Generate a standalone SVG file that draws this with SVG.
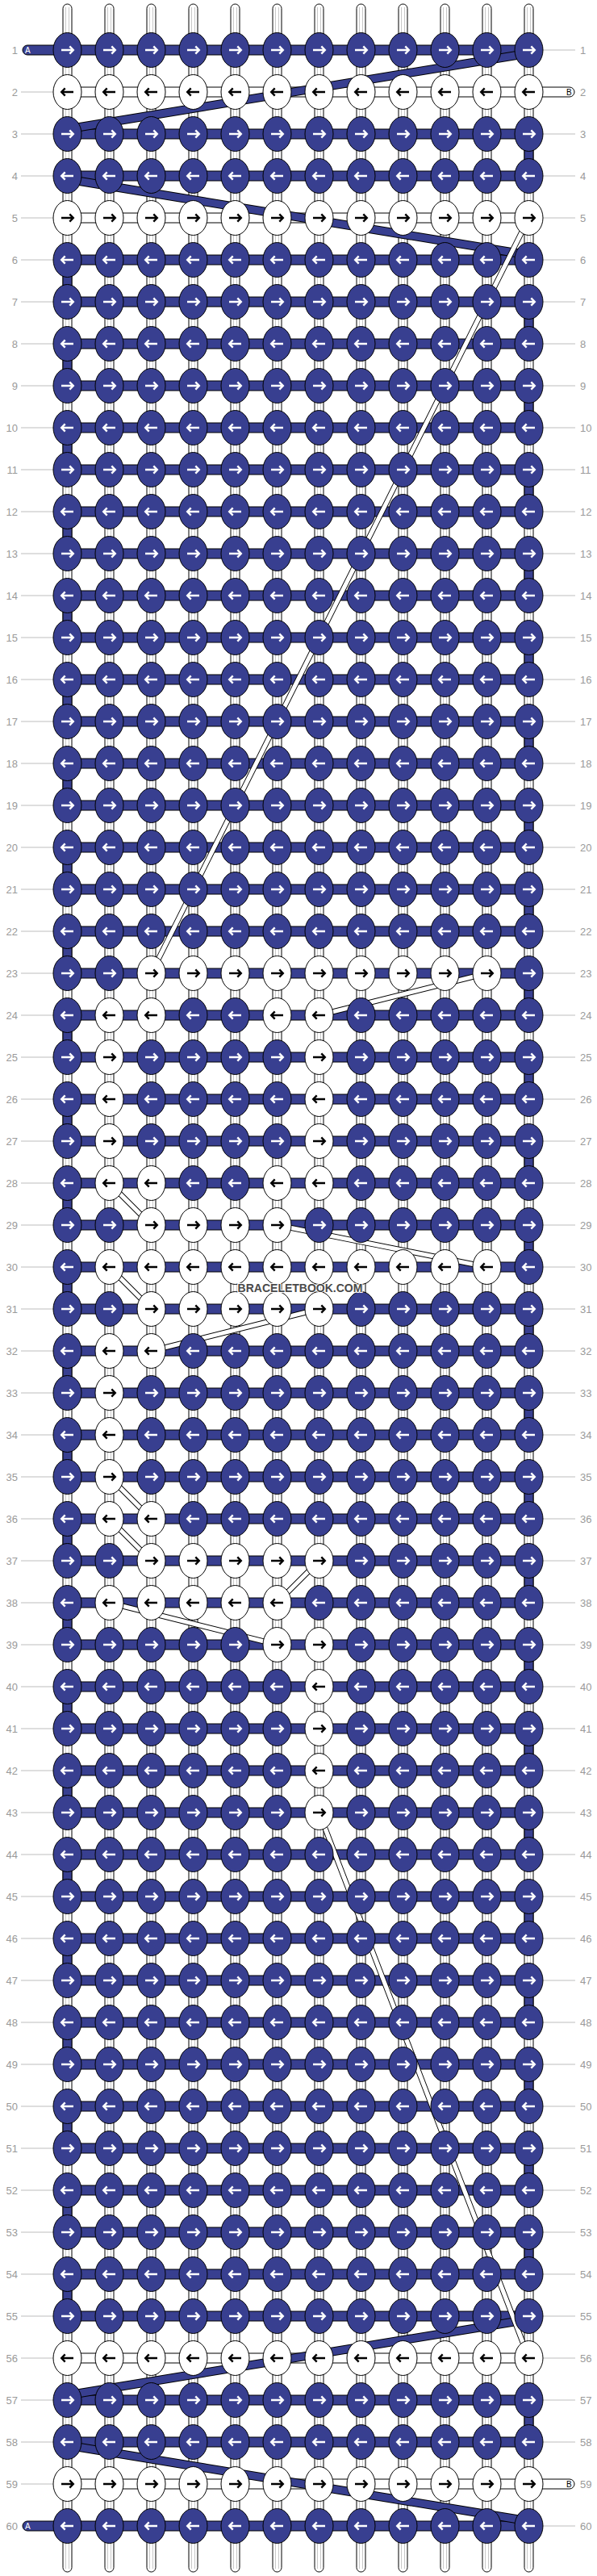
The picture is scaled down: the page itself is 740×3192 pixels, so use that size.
<svg xmlns="http://www.w3.org/2000/svg" xmlns:xlink="http://www.w3.org/1999/xlink" width="740" height="3192" viewBox="0 0 740 3192">
<defs>
<style>
.l{font-family:"Liberation Sans",Arial,sans-serif;font-size:13px;fill:#9a9a9a;text-anchor:end}
.r{font-family:"Liberation Sans",Arial,sans-serif;font-size:13px;fill:#9a9a9a}
.g{stroke:#bdbdbd;stroke-width:1;fill:none}
.hb{fill:#383f90;stroke:#000;stroke-width:1}
.hw{fill:#fff;stroke:#000;stroke-width:1}
.bk{stroke:#000;fill:none;stroke-linecap:butt}
.bl{stroke:#383f90;fill:none;stroke-linecap:butt}
.wh{stroke:#fff;fill:none;stroke-linecap:butt}
</style>
<g id="vt"><rect x="-5.5" y="5" width="11" height="3182" rx="5.5" fill="#fff" stroke="#000"/><path d="M-2,9V3183M2,9V3183" stroke="#c8c8c8" fill="none"/></g>
<rect id="hB" class="hb" x="83.5" y="-6" width="572" height="12"/>
<rect id="hW" class="hw" x="83.5" y="-6" width="572" height="12"/>
<g id="bR"><ellipse rx="17.5" ry="21.5" fill="#383f90" stroke="#000"/><path d="M-7.5,0H7M2.8,-4.7L7.3,0L2.8,4.7" stroke="#fff" stroke-width="2.4" fill="none"/></g>
<g id="bL"><ellipse rx="17.5" ry="21.5" fill="#383f90" stroke="#000"/><path d="M7.5,0H-7M-2.8,-4.7L-7.3,0L-2.8,4.7" stroke="#fff" stroke-width="2.4" fill="none"/></g>
<g id="wR"><ellipse rx="17.5" ry="21.5" fill="#fff" stroke="#000"/><path d="M-7.5,0H7M2.8,-4.7L7.3,0L2.8,4.7" stroke="#000" stroke-width="2.4" fill="none"/></g>
<g id="wL"><ellipse rx="17.5" ry="21.5" fill="#fff" stroke="#000"/><path d="M7.5,0H-7M-2.8,-4.7L-7.3,0L-2.8,4.7" stroke="#000" stroke-width="2.4" fill="none"/></g>
</defs>
<rect width="740" height="3192" fill="#fff"/>
<g id="connectors">
<g id="warps"><use href="#vt" x="83.5"/><use href="#vt" x="135.5"/><use href="#vt" x="187.5"/><use href="#vt" x="239.5"/><use href="#vt" x="291.5"/><use href="#vt" x="343.5"/><use href="#vt" x="395.5"/><use href="#vt" x="447.5"/><use href="#vt" x="499.5"/><use href="#vt" x="551.5"/><use href="#vt" x="603.5"/><use href="#vt" x="655.5"/></g>
<g id="ends">
<rect x="28" y="56" width="62" height="12" rx="6" class="hb"/><text x="31" y="65.5" font-family="Liberation Sans,Arial,sans-serif" font-size="10" fill="#fff">A</text>
<rect x="28" y="3124" width="62" height="12" rx="6" class="hb"/><text x="31" y="3133.5" font-family="Liberation Sans,Arial,sans-serif" font-size="10" fill="#fff">A</text>
<rect x="650" y="108" width="62" height="12" rx="6" class="hw"/><text x="702" y="117.5" font-family="Liberation Sans,Arial,sans-serif" font-size="10" fill="#000">B</text>
<rect x="650" y="3072" width="62" height="12" rx="6" class="hw"/><text x="702" y="3081.5" font-family="Liberation Sans,Arial,sans-serif" font-size="10" fill="#000">B</text>
</g>
<g id="bars">
<use href="#hB" y="62"/><use href="#hW" y="114"/><use href="#hB" y="166"/><use href="#hB" y="218"/><use href="#hW" y="270"/><use href="#hB" y="322"/><use href="#hB" y="374"/><use href="#hB" y="426"/><use href="#hB" y="478"/><use href="#hB" y="530"/><use href="#hB" y="582"/><use href="#hB" y="634"/><use href="#hB" y="686"/><use href="#hB" y="738"/><use href="#hB" y="790"/><use href="#hB" y="842"/><use href="#hB" y="894"/><use href="#hB" y="946"/><use href="#hB" y="998"/><use href="#hB" y="1050"/><use href="#hB" y="1102"/><use href="#hB" y="1154"/><use href="#hB" y="1206"/><use href="#hB" y="1258"/><use href="#hB" y="1310"/><use href="#hB" y="1362"/><use href="#hB" y="1414"/><use href="#hB" y="1466"/><use href="#hB" y="1518"/><use href="#hB" y="1570"/><use href="#hB" y="1622"/><use href="#hB" y="1674"/><use href="#hB" y="1726"/><use href="#hB" y="1778"/><use href="#hB" y="1830"/><use href="#hB" y="1882"/><use href="#hB" y="1934"/><use href="#hB" y="1986"/><use href="#hB" y="2038"/><use href="#hB" y="2090"/><use href="#hB" y="2142"/><use href="#hB" y="2194"/><use href="#hB" y="2246"/><use href="#hB" y="2298"/><use href="#hB" y="2350"/><use href="#hB" y="2402"/><use href="#hB" y="2454"/><use href="#hB" y="2506"/><use href="#hB" y="2558"/><use href="#hB" y="2610"/><use href="#hB" y="2662"/><use href="#hB" y="2714"/><use href="#hB" y="2766"/><use href="#hB" y="2818"/><use href="#hB" y="2870"/><use href="#hW" y="2922"/><use href="#hB" y="2974"/><use href="#hB" y="3026"/><use href="#hW" y="3078"/><use href="#hB" y="3130"/>
</g>
<g id="turns">
<path class="bk" stroke-width="12" stroke-dasharray="52 52" d="M83.5,322V2870"/><path class="bl" stroke-width="10" stroke-dasharray="52 52" d="M83.5,322V2870"/>
<path class="bk" stroke-width="12" stroke-dasharray="52 52" d="M655.5,374V2818"/><path class="bl" stroke-width="10" stroke-dasharray="52 52" d="M655.5,374V2818"/>
<rect x="650" y="166" width="11" height="52" class="hb"/><rect x="650" y="2974" width="11" height="52" class="hb"/>
</g>
<g id="carry-blue">
<path class="bk" stroke-width="11" d="M655.5,66L83.5,160M83.5,222L655.5,316M655.5,2874L83.5,2968M83.5,3030L655.5,3124"/>
<path class="bl" stroke-width="9" d="M655.5,66L83.5,160M83.5,222L655.5,316M655.5,2874L83.5,2968M83.5,3030L655.5,3124"/>
</g>
<g id="carry-white">
<path class="bk" stroke-width="7" d="M655.5,270L187.5,1206M603.5,1206L395.5,1258M135.5,1466L187.5,1518M343.5,1518L603.5,1570M135.5,1570L187.5,1622M395.5,1622L187.5,1674M135.5,1830L187.5,1882M135.5,1882L187.5,1934M395.5,1934L343.5,1986M135.5,1986L343.5,2038M395.5,2246L655.5,2922"/>
<path class="wh" stroke-width="5.2" d="M655.5,270L187.5,1206M603.5,1206L395.5,1258M135.5,1466L187.5,1518M343.5,1518L603.5,1570M135.5,1570L187.5,1622M395.5,1622L187.5,1674M135.5,1830L187.5,1882M135.5,1882L187.5,1934M395.5,1934L343.5,1986M135.5,1986L343.5,2038M395.5,2246L655.5,2922"/>
</g>
</g>
<g id="knots">
<g id="row1" transform="translate(0,62)"><text class="l" x="22" y="4.5">1</text><text class="r" x="719" y="4.5">1</text><path class="g" d="M673,0H713"/><g id="k1-1"><use href="#bR" x="83.5"/></g><g id="k1-2"><use href="#bR" x="135.5"/></g><g id="k1-3"><use href="#bR" x="187.5"/></g><g id="k1-4"><use href="#bR" x="239.5"/></g><g id="k1-5"><use href="#bR" x="291.5"/></g><g id="k1-6"><use href="#bR" x="343.5"/></g><g id="k1-7"><use href="#bR" x="395.5"/></g><g id="k1-8"><use href="#bR" x="447.5"/></g><g id="k1-9"><use href="#bR" x="499.5"/></g><g id="k1-10"><use href="#bR" x="551.5"/></g><g id="k1-11"><use href="#bR" x="603.5"/></g><g id="k1-12"><use href="#bR" x="655.5"/></g></g>
<g id="row2" transform="translate(0,114)"><text class="l" x="22" y="4.5">2</text><text class="r" x="719" y="4.5">2</text><path class="g" d="M26,0H66"/><g id="k2-1"><use href="#wL" x="83.5"/></g><g id="k2-2"><use href="#wL" x="135.5"/></g><g id="k2-3"><use href="#wL" x="187.5"/></g><g id="k2-4"><use href="#wL" x="239.5"/></g><g id="k2-5"><use href="#wL" x="291.5"/></g><g id="k2-6"><use href="#wL" x="343.5"/></g><g id="k2-7"><use href="#wL" x="395.5"/></g><g id="k2-8"><use href="#wL" x="447.5"/></g><g id="k2-9"><use href="#wL" x="499.5"/></g><g id="k2-10"><use href="#wL" x="551.5"/></g><g id="k2-11"><use href="#wL" x="603.5"/></g><g id="k2-12"><use href="#wL" x="655.5"/></g></g>
<g id="row3" transform="translate(0,166)"><text class="l" x="22" y="4.5">3</text><text class="r" x="719" y="4.5">3</text><path class="g" d="M26,0H66M673,0H713"/><g id="k3-1"><use href="#bR" x="83.5"/></g><g id="k3-2"><use href="#bR" x="135.5"/></g><g id="k3-3"><use href="#bR" x="187.5"/></g><g id="k3-4"><use href="#bR" x="239.5"/></g><g id="k3-5"><use href="#bR" x="291.5"/></g><g id="k3-6"><use href="#bR" x="343.5"/></g><g id="k3-7"><use href="#bR" x="395.5"/></g><g id="k3-8"><use href="#bR" x="447.5"/></g><g id="k3-9"><use href="#bR" x="499.5"/></g><g id="k3-10"><use href="#bR" x="551.5"/></g><g id="k3-11"><use href="#bR" x="603.5"/></g><g id="k3-12"><use href="#bR" x="655.5"/></g></g>
<g id="row4" transform="translate(0,218)"><text class="l" x="22" y="4.5">4</text><text class="r" x="719" y="4.5">4</text><path class="g" d="M26,0H66M673,0H713"/><g id="k4-1"><use href="#bL" x="83.5"/></g><g id="k4-2"><use href="#bL" x="135.5"/></g><g id="k4-3"><use href="#bL" x="187.5"/></g><g id="k4-4"><use href="#bL" x="239.5"/></g><g id="k4-5"><use href="#bL" x="291.5"/></g><g id="k4-6"><use href="#bL" x="343.5"/></g><g id="k4-7"><use href="#bL" x="395.5"/></g><g id="k4-8"><use href="#bL" x="447.5"/></g><g id="k4-9"><use href="#bL" x="499.5"/></g><g id="k4-10"><use href="#bL" x="551.5"/></g><g id="k4-11"><use href="#bL" x="603.5"/></g><g id="k4-12"><use href="#bL" x="655.5"/></g></g>
<g id="row5" transform="translate(0,270)"><text class="l" x="22" y="4.5">5</text><text class="r" x="719" y="4.5">5</text><path class="g" d="M26,0H66M673,0H713"/><g id="k5-1"><use href="#wR" x="83.5"/></g><g id="k5-2"><use href="#wR" x="135.5"/></g><g id="k5-3"><use href="#wR" x="187.5"/></g><g id="k5-4"><use href="#wR" x="239.5"/></g><g id="k5-5"><use href="#wR" x="291.5"/></g><g id="k5-6"><use href="#wR" x="343.5"/></g><g id="k5-7"><use href="#wR" x="395.5"/></g><g id="k5-8"><use href="#wR" x="447.5"/></g><g id="k5-9"><use href="#wR" x="499.5"/></g><g id="k5-10"><use href="#wR" x="551.5"/></g><g id="k5-11"><use href="#wR" x="603.5"/></g><g id="k5-12"><use href="#wR" x="655.5"/></g></g>
<g id="row6" transform="translate(0,322)"><text class="l" x="22" y="4.5">6</text><text class="r" x="719" y="4.5">6</text><path class="g" d="M26,0H66M673,0H713"/><g id="k6-1"><use href="#bL" x="83.5"/></g><g id="k6-2"><use href="#bL" x="135.5"/></g><g id="k6-3"><use href="#bL" x="187.5"/></g><g id="k6-4"><use href="#bL" x="239.5"/></g><g id="k6-5"><use href="#bL" x="291.5"/></g><g id="k6-6"><use href="#bL" x="343.5"/></g><g id="k6-7"><use href="#bL" x="395.5"/></g><g id="k6-8"><use href="#bL" x="447.5"/></g><g id="k6-9"><use href="#bL" x="499.5"/></g><g id="k6-10"><use href="#bL" x="551.5"/></g><g id="k6-11"><use href="#bL" x="603.5"/></g><g id="k6-12"><use href="#bL" x="655.5"/></g></g>
<g id="row7" transform="translate(0,374)"><text class="l" x="22" y="4.5">7</text><text class="r" x="719" y="4.5">7</text><path class="g" d="M26,0H66M673,0H713"/><g id="k7-1"><use href="#bR" x="83.5"/></g><g id="k7-2"><use href="#bR" x="135.5"/></g><g id="k7-3"><use href="#bR" x="187.5"/></g><g id="k7-4"><use href="#bR" x="239.5"/></g><g id="k7-5"><use href="#bR" x="291.5"/></g><g id="k7-6"><use href="#bR" x="343.5"/></g><g id="k7-7"><use href="#bR" x="395.5"/></g><g id="k7-8"><use href="#bR" x="447.5"/></g><g id="k7-9"><use href="#bR" x="499.5"/></g><g id="k7-10"><use href="#bR" x="551.5"/></g><g id="k7-11"><use href="#bR" x="603.5"/></g><g id="k7-12"><use href="#bR" x="655.5"/></g></g>
<g id="row8" transform="translate(0,426)"><text class="l" x="22" y="4.5">8</text><text class="r" x="719" y="4.5">8</text><path class="g" d="M26,0H66M673,0H713"/><g id="k8-1"><use href="#bL" x="83.5"/></g><g id="k8-2"><use href="#bL" x="135.5"/></g><g id="k8-3"><use href="#bL" x="187.5"/></g><g id="k8-4"><use href="#bL" x="239.5"/></g><g id="k8-5"><use href="#bL" x="291.5"/></g><g id="k8-6"><use href="#bL" x="343.5"/></g><g id="k8-7"><use href="#bL" x="395.5"/></g><g id="k8-8"><use href="#bL" x="447.5"/></g><g id="k8-9"><use href="#bL" x="499.5"/></g><g id="k8-10"><use href="#bL" x="551.5"/></g><g id="k8-11"><use href="#bL" x="603.5"/></g><g id="k8-12"><use href="#bL" x="655.5"/></g></g>
<g id="row9" transform="translate(0,478)"><text class="l" x="22" y="4.5">9</text><text class="r" x="719" y="4.5">9</text><path class="g" d="M26,0H66M673,0H713"/><g id="k9-1"><use href="#bR" x="83.5"/></g><g id="k9-2"><use href="#bR" x="135.5"/></g><g id="k9-3"><use href="#bR" x="187.5"/></g><g id="k9-4"><use href="#bR" x="239.5"/></g><g id="k9-5"><use href="#bR" x="291.5"/></g><g id="k9-6"><use href="#bR" x="343.5"/></g><g id="k9-7"><use href="#bR" x="395.5"/></g><g id="k9-8"><use href="#bR" x="447.5"/></g><g id="k9-9"><use href="#bR" x="499.5"/></g><g id="k9-10"><use href="#bR" x="551.5"/></g><g id="k9-11"><use href="#bR" x="603.5"/></g><g id="k9-12"><use href="#bR" x="655.5"/></g></g>
<g id="row10" transform="translate(0,530)"><text class="l" x="22" y="4.5">10</text><text class="r" x="719" y="4.5">10</text><path class="g" d="M26,0H66M673,0H713"/><g id="k10-1"><use href="#bL" x="83.5"/></g><g id="k10-2"><use href="#bL" x="135.5"/></g><g id="k10-3"><use href="#bL" x="187.5"/></g><g id="k10-4"><use href="#bL" x="239.5"/></g><g id="k10-5"><use href="#bL" x="291.5"/></g><g id="k10-6"><use href="#bL" x="343.5"/></g><g id="k10-7"><use href="#bL" x="395.5"/></g><g id="k10-8"><use href="#bL" x="447.5"/></g><g id="k10-9"><use href="#bL" x="499.5"/></g><g id="k10-10"><use href="#bL" x="551.5"/></g><g id="k10-11"><use href="#bL" x="603.5"/></g><g id="k10-12"><use href="#bL" x="655.5"/></g></g>
<g id="row11" transform="translate(0,582)"><text class="l" x="22" y="4.5">11</text><text class="r" x="719" y="4.5">11</text><path class="g" d="M26,0H66M673,0H713"/><g id="k11-1"><use href="#bR" x="83.5"/></g><g id="k11-2"><use href="#bR" x="135.5"/></g><g id="k11-3"><use href="#bR" x="187.5"/></g><g id="k11-4"><use href="#bR" x="239.5"/></g><g id="k11-5"><use href="#bR" x="291.5"/></g><g id="k11-6"><use href="#bR" x="343.5"/></g><g id="k11-7"><use href="#bR" x="395.5"/></g><g id="k11-8"><use href="#bR" x="447.5"/></g><g id="k11-9"><use href="#bR" x="499.5"/></g><g id="k11-10"><use href="#bR" x="551.5"/></g><g id="k11-11"><use href="#bR" x="603.5"/></g><g id="k11-12"><use href="#bR" x="655.5"/></g></g>
<g id="row12" transform="translate(0,634)"><text class="l" x="22" y="4.5">12</text><text class="r" x="719" y="4.5">12</text><path class="g" d="M26,0H66M673,0H713"/><g id="k12-1"><use href="#bL" x="83.5"/></g><g id="k12-2"><use href="#bL" x="135.5"/></g><g id="k12-3"><use href="#bL" x="187.5"/></g><g id="k12-4"><use href="#bL" x="239.5"/></g><g id="k12-5"><use href="#bL" x="291.5"/></g><g id="k12-6"><use href="#bL" x="343.5"/></g><g id="k12-7"><use href="#bL" x="395.5"/></g><g id="k12-8"><use href="#bL" x="447.5"/></g><g id="k12-9"><use href="#bL" x="499.5"/></g><g id="k12-10"><use href="#bL" x="551.5"/></g><g id="k12-11"><use href="#bL" x="603.5"/></g><g id="k12-12"><use href="#bL" x="655.5"/></g></g>
<g id="row13" transform="translate(0,686)"><text class="l" x="22" y="4.5">13</text><text class="r" x="719" y="4.5">13</text><path class="g" d="M26,0H66M673,0H713"/><g id="k13-1"><use href="#bR" x="83.5"/></g><g id="k13-2"><use href="#bR" x="135.5"/></g><g id="k13-3"><use href="#bR" x="187.5"/></g><g id="k13-4"><use href="#bR" x="239.5"/></g><g id="k13-5"><use href="#bR" x="291.5"/></g><g id="k13-6"><use href="#bR" x="343.5"/></g><g id="k13-7"><use href="#bR" x="395.5"/></g><g id="k13-8"><use href="#bR" x="447.5"/></g><g id="k13-9"><use href="#bR" x="499.5"/></g><g id="k13-10"><use href="#bR" x="551.5"/></g><g id="k13-11"><use href="#bR" x="603.5"/></g><g id="k13-12"><use href="#bR" x="655.5"/></g></g>
<g id="row14" transform="translate(0,738)"><text class="l" x="22" y="4.5">14</text><text class="r" x="719" y="4.5">14</text><path class="g" d="M26,0H66M673,0H713"/><g id="k14-1"><use href="#bL" x="83.5"/></g><g id="k14-2"><use href="#bL" x="135.5"/></g><g id="k14-3"><use href="#bL" x="187.5"/></g><g id="k14-4"><use href="#bL" x="239.5"/></g><g id="k14-5"><use href="#bL" x="291.5"/></g><g id="k14-6"><use href="#bL" x="343.5"/></g><g id="k14-7"><use href="#bL" x="395.5"/></g><g id="k14-8"><use href="#bL" x="447.5"/></g><g id="k14-9"><use href="#bL" x="499.5"/></g><g id="k14-10"><use href="#bL" x="551.5"/></g><g id="k14-11"><use href="#bL" x="603.5"/></g><g id="k14-12"><use href="#bL" x="655.5"/></g></g>
<g id="row15" transform="translate(0,790)"><text class="l" x="22" y="4.5">15</text><text class="r" x="719" y="4.5">15</text><path class="g" d="M26,0H66M673,0H713"/><g id="k15-1"><use href="#bR" x="83.5"/></g><g id="k15-2"><use href="#bR" x="135.5"/></g><g id="k15-3"><use href="#bR" x="187.5"/></g><g id="k15-4"><use href="#bR" x="239.5"/></g><g id="k15-5"><use href="#bR" x="291.5"/></g><g id="k15-6"><use href="#bR" x="343.5"/></g><g id="k15-7"><use href="#bR" x="395.5"/></g><g id="k15-8"><use href="#bR" x="447.5"/></g><g id="k15-9"><use href="#bR" x="499.5"/></g><g id="k15-10"><use href="#bR" x="551.5"/></g><g id="k15-11"><use href="#bR" x="603.5"/></g><g id="k15-12"><use href="#bR" x="655.5"/></g></g>
<g id="row16" transform="translate(0,842)"><text class="l" x="22" y="4.5">16</text><text class="r" x="719" y="4.5">16</text><path class="g" d="M26,0H66M673,0H713"/><g id="k16-1"><use href="#bL" x="83.5"/></g><g id="k16-2"><use href="#bL" x="135.5"/></g><g id="k16-3"><use href="#bL" x="187.5"/></g><g id="k16-4"><use href="#bL" x="239.5"/></g><g id="k16-5"><use href="#bL" x="291.5"/></g><g id="k16-6"><use href="#bL" x="343.5"/></g><g id="k16-7"><use href="#bL" x="395.5"/></g><g id="k16-8"><use href="#bL" x="447.5"/></g><g id="k16-9"><use href="#bL" x="499.5"/></g><g id="k16-10"><use href="#bL" x="551.5"/></g><g id="k16-11"><use href="#bL" x="603.5"/></g><g id="k16-12"><use href="#bL" x="655.5"/></g></g>
<g id="row17" transform="translate(0,894)"><text class="l" x="22" y="4.5">17</text><text class="r" x="719" y="4.5">17</text><path class="g" d="M26,0H66M673,0H713"/><g id="k17-1"><use href="#bR" x="83.5"/></g><g id="k17-2"><use href="#bR" x="135.5"/></g><g id="k17-3"><use href="#bR" x="187.5"/></g><g id="k17-4"><use href="#bR" x="239.5"/></g><g id="k17-5"><use href="#bR" x="291.5"/></g><g id="k17-6"><use href="#bR" x="343.5"/></g><g id="k17-7"><use href="#bR" x="395.5"/></g><g id="k17-8"><use href="#bR" x="447.5"/></g><g id="k17-9"><use href="#bR" x="499.5"/></g><g id="k17-10"><use href="#bR" x="551.5"/></g><g id="k17-11"><use href="#bR" x="603.5"/></g><g id="k17-12"><use href="#bR" x="655.5"/></g></g>
<g id="row18" transform="translate(0,946)"><text class="l" x="22" y="4.5">18</text><text class="r" x="719" y="4.5">18</text><path class="g" d="M26,0H66M673,0H713"/><g id="k18-1"><use href="#bL" x="83.5"/></g><g id="k18-2"><use href="#bL" x="135.5"/></g><g id="k18-3"><use href="#bL" x="187.5"/></g><g id="k18-4"><use href="#bL" x="239.5"/></g><g id="k18-5"><use href="#bL" x="291.5"/></g><g id="k18-6"><use href="#bL" x="343.5"/></g><g id="k18-7"><use href="#bL" x="395.5"/></g><g id="k18-8"><use href="#bL" x="447.5"/></g><g id="k18-9"><use href="#bL" x="499.5"/></g><g id="k18-10"><use href="#bL" x="551.5"/></g><g id="k18-11"><use href="#bL" x="603.5"/></g><g id="k18-12"><use href="#bL" x="655.5"/></g></g>
<g id="row19" transform="translate(0,998)"><text class="l" x="22" y="4.5">19</text><text class="r" x="719" y="4.5">19</text><path class="g" d="M26,0H66M673,0H713"/><g id="k19-1"><use href="#bR" x="83.5"/></g><g id="k19-2"><use href="#bR" x="135.5"/></g><g id="k19-3"><use href="#bR" x="187.5"/></g><g id="k19-4"><use href="#bR" x="239.5"/></g><g id="k19-5"><use href="#bR" x="291.5"/></g><g id="k19-6"><use href="#bR" x="343.5"/></g><g id="k19-7"><use href="#bR" x="395.5"/></g><g id="k19-8"><use href="#bR" x="447.5"/></g><g id="k19-9"><use href="#bR" x="499.5"/></g><g id="k19-10"><use href="#bR" x="551.5"/></g><g id="k19-11"><use href="#bR" x="603.5"/></g><g id="k19-12"><use href="#bR" x="655.5"/></g></g>
<g id="row20" transform="translate(0,1050)"><text class="l" x="22" y="4.5">20</text><text class="r" x="719" y="4.5">20</text><path class="g" d="M26,0H66M673,0H713"/><g id="k20-1"><use href="#bL" x="83.5"/></g><g id="k20-2"><use href="#bL" x="135.5"/></g><g id="k20-3"><use href="#bL" x="187.5"/></g><g id="k20-4"><use href="#bL" x="239.5"/></g><g id="k20-5"><use href="#bL" x="291.5"/></g><g id="k20-6"><use href="#bL" x="343.5"/></g><g id="k20-7"><use href="#bL" x="395.5"/></g><g id="k20-8"><use href="#bL" x="447.5"/></g><g id="k20-9"><use href="#bL" x="499.5"/></g><g id="k20-10"><use href="#bL" x="551.5"/></g><g id="k20-11"><use href="#bL" x="603.5"/></g><g id="k20-12"><use href="#bL" x="655.5"/></g></g>
<g id="row21" transform="translate(0,1102)"><text class="l" x="22" y="4.5">21</text><text class="r" x="719" y="4.5">21</text><path class="g" d="M26,0H66M673,0H713"/><g id="k21-1"><use href="#bR" x="83.5"/></g><g id="k21-2"><use href="#bR" x="135.5"/></g><g id="k21-3"><use href="#bR" x="187.5"/></g><g id="k21-4"><use href="#bR" x="239.5"/></g><g id="k21-5"><use href="#bR" x="291.5"/></g><g id="k21-6"><use href="#bR" x="343.5"/></g><g id="k21-7"><use href="#bR" x="395.5"/></g><g id="k21-8"><use href="#bR" x="447.5"/></g><g id="k21-9"><use href="#bR" x="499.5"/></g><g id="k21-10"><use href="#bR" x="551.5"/></g><g id="k21-11"><use href="#bR" x="603.5"/></g><g id="k21-12"><use href="#bR" x="655.5"/></g></g>
<g id="row22" transform="translate(0,1154)"><text class="l" x="22" y="4.5">22</text><text class="r" x="719" y="4.5">22</text><path class="g" d="M26,0H66M673,0H713"/><g id="k22-1"><use href="#bL" x="83.5"/></g><g id="k22-2"><use href="#bL" x="135.5"/></g><g id="k22-3"><use href="#bL" x="187.5"/></g><g id="k22-4"><use href="#bL" x="239.5"/></g><g id="k22-5"><use href="#bL" x="291.5"/></g><g id="k22-6"><use href="#bL" x="343.5"/></g><g id="k22-7"><use href="#bL" x="395.5"/></g><g id="k22-8"><use href="#bL" x="447.5"/></g><g id="k22-9"><use href="#bL" x="499.5"/></g><g id="k22-10"><use href="#bL" x="551.5"/></g><g id="k22-11"><use href="#bL" x="603.5"/></g><g id="k22-12"><use href="#bL" x="655.5"/></g></g>
<g id="row23" transform="translate(0,1206)"><text class="l" x="22" y="4.5">23</text><text class="r" x="719" y="4.5">23</text><path class="g" d="M26,0H66M673,0H713"/><g id="k23-1"><use href="#bR" x="83.5"/></g><g id="k23-2"><use href="#bR" x="135.5"/></g><g id="k23-3"><use href="#wR" x="187.5"/></g><g id="k23-4"><use href="#wR" x="239.5"/></g><g id="k23-5"><use href="#wR" x="291.5"/></g><g id="k23-6"><use href="#wR" x="343.5"/></g><g id="k23-7"><use href="#wR" x="395.5"/></g><g id="k23-8"><use href="#wR" x="447.5"/></g><g id="k23-9"><use href="#wR" x="499.5"/></g><g id="k23-10"><use href="#wR" x="551.5"/></g><g id="k23-11"><use href="#wR" x="603.5"/></g><g id="k23-12"><use href="#bR" x="655.5"/></g></g>
<g id="row24" transform="translate(0,1258)"><text class="l" x="22" y="4.5">24</text><text class="r" x="719" y="4.5">24</text><path class="g" d="M26,0H66M673,0H713"/><g id="k24-1"><use href="#bL" x="83.5"/></g><g id="k24-2"><use href="#wL" x="135.5"/></g><g id="k24-3"><use href="#wL" x="187.5"/></g><g id="k24-4"><use href="#bL" x="239.5"/></g><g id="k24-5"><use href="#bL" x="291.5"/></g><g id="k24-6"><use href="#wL" x="343.5"/></g><g id="k24-7"><use href="#wL" x="395.5"/></g><g id="k24-8"><use href="#bL" x="447.5"/></g><g id="k24-9"><use href="#bL" x="499.5"/></g><g id="k24-10"><use href="#bL" x="551.5"/></g><g id="k24-11"><use href="#bL" x="603.5"/></g><g id="k24-12"><use href="#bL" x="655.5"/></g></g>
<g id="row25" transform="translate(0,1310)"><text class="l" x="22" y="4.5">25</text><text class="r" x="719" y="4.5">25</text><path class="g" d="M26,0H66M673,0H713"/><g id="k25-1"><use href="#bR" x="83.5"/></g><g id="k25-2"><use href="#wR" x="135.5"/></g><g id="k25-3"><use href="#bR" x="187.5"/></g><g id="k25-4"><use href="#bR" x="239.5"/></g><g id="k25-5"><use href="#bR" x="291.5"/></g><g id="k25-6"><use href="#bR" x="343.5"/></g><g id="k25-7"><use href="#wR" x="395.5"/></g><g id="k25-8"><use href="#bR" x="447.5"/></g><g id="k25-9"><use href="#bR" x="499.5"/></g><g id="k25-10"><use href="#bR" x="551.5"/></g><g id="k25-11"><use href="#bR" x="603.5"/></g><g id="k25-12"><use href="#bR" x="655.5"/></g></g>
<g id="row26" transform="translate(0,1362)"><text class="l" x="22" y="4.5">26</text><text class="r" x="719" y="4.5">26</text><path class="g" d="M26,0H66M673,0H713"/><g id="k26-1"><use href="#bL" x="83.5"/></g><g id="k26-2"><use href="#wL" x="135.5"/></g><g id="k26-3"><use href="#bL" x="187.5"/></g><g id="k26-4"><use href="#bL" x="239.5"/></g><g id="k26-5"><use href="#bL" x="291.5"/></g><g id="k26-6"><use href="#bL" x="343.5"/></g><g id="k26-7"><use href="#wL" x="395.5"/></g><g id="k26-8"><use href="#bL" x="447.5"/></g><g id="k26-9"><use href="#bL" x="499.5"/></g><g id="k26-10"><use href="#bL" x="551.5"/></g><g id="k26-11"><use href="#bL" x="603.5"/></g><g id="k26-12"><use href="#bL" x="655.5"/></g></g>
<g id="row27" transform="translate(0,1414)"><text class="l" x="22" y="4.5">27</text><text class="r" x="719" y="4.5">27</text><path class="g" d="M26,0H66M673,0H713"/><g id="k27-1"><use href="#bR" x="83.5"/></g><g id="k27-2"><use href="#wR" x="135.5"/></g><g id="k27-3"><use href="#bR" x="187.5"/></g><g id="k27-4"><use href="#bR" x="239.5"/></g><g id="k27-5"><use href="#bR" x="291.5"/></g><g id="k27-6"><use href="#bR" x="343.5"/></g><g id="k27-7"><use href="#wR" x="395.5"/></g><g id="k27-8"><use href="#bR" x="447.5"/></g><g id="k27-9"><use href="#bR" x="499.5"/></g><g id="k27-10"><use href="#bR" x="551.5"/></g><g id="k27-11"><use href="#bR" x="603.5"/></g><g id="k27-12"><use href="#bR" x="655.5"/></g></g>
<g id="row28" transform="translate(0,1466)"><text class="l" x="22" y="4.5">28</text><text class="r" x="719" y="4.5">28</text><path class="g" d="M26,0H66M673,0H713"/><g id="k28-1"><use href="#bL" x="83.5"/></g><g id="k28-2"><use href="#wL" x="135.5"/></g><g id="k28-3"><use href="#wL" x="187.5"/></g><g id="k28-4"><use href="#bL" x="239.5"/></g><g id="k28-5"><use href="#bL" x="291.5"/></g><g id="k28-6"><use href="#wL" x="343.5"/></g><g id="k28-7"><use href="#wL" x="395.5"/></g><g id="k28-8"><use href="#bL" x="447.5"/></g><g id="k28-9"><use href="#bL" x="499.5"/></g><g id="k28-10"><use href="#bL" x="551.5"/></g><g id="k28-11"><use href="#bL" x="603.5"/></g><g id="k28-12"><use href="#bL" x="655.5"/></g></g>
<g id="row29" transform="translate(0,1518)"><text class="l" x="22" y="4.5">29</text><text class="r" x="719" y="4.5">29</text><path class="g" d="M26,0H66M673,0H713"/><g id="k29-1"><use href="#bR" x="83.5"/></g><g id="k29-2"><use href="#bR" x="135.5"/></g><g id="k29-3"><use href="#wR" x="187.5"/></g><g id="k29-4"><use href="#wR" x="239.5"/></g><g id="k29-5"><use href="#wR" x="291.5"/></g><g id="k29-6"><use href="#wR" x="343.5"/></g><g id="k29-7"><use href="#bR" x="395.5"/></g><g id="k29-8"><use href="#bR" x="447.5"/></g><g id="k29-9"><use href="#bR" x="499.5"/></g><g id="k29-10"><use href="#bR" x="551.5"/></g><g id="k29-11"><use href="#bR" x="603.5"/></g><g id="k29-12"><use href="#bR" x="655.5"/></g></g>
<g id="row30" transform="translate(0,1570)"><text class="l" x="22" y="4.5">30</text><text class="r" x="719" y="4.5">30</text><path class="g" d="M26,0H66M673,0H713"/><g id="k30-1"><use href="#bL" x="83.5"/></g><g id="k30-2"><use href="#wL" x="135.5"/></g><g id="k30-3"><use href="#wL" x="187.5"/></g><g id="k30-4"><use href="#wL" x="239.5"/></g><g id="k30-5"><use href="#wL" x="291.5"/></g><g id="k30-6"><use href="#wL" x="343.5"/></g><g id="k30-7"><use href="#wL" x="395.5"/></g><g id="k30-8"><use href="#wL" x="447.5"/></g><g id="k30-9"><use href="#wL" x="499.5"/></g><g id="k30-10"><use href="#wL" x="551.5"/></g><g id="k30-11"><use href="#wL" x="603.5"/></g><g id="k30-12"><use href="#bL" x="655.5"/></g></g>
<g id="row31" transform="translate(0,1622)"><text class="l" x="22" y="4.5">31</text><text class="r" x="719" y="4.5">31</text><path class="g" d="M26,0H66M673,0H713"/><g id="k31-1"><use href="#bR" x="83.5"/></g><g id="k31-2"><use href="#bR" x="135.5"/></g><g id="k31-3"><use href="#wR" x="187.5"/></g><g id="k31-4"><use href="#wR" x="239.5"/></g><g id="k31-5"><use href="#wR" x="291.5"/></g><g id="k31-6"><use href="#wR" x="343.5"/></g><g id="k31-7"><use href="#wR" x="395.5"/></g><g id="k31-8"><use href="#bR" x="447.5"/></g><g id="k31-9"><use href="#bR" x="499.5"/></g><g id="k31-10"><use href="#bR" x="551.5"/></g><g id="k31-11"><use href="#bR" x="603.5"/></g><g id="k31-12"><use href="#bR" x="655.5"/></g></g>
<g id="row32" transform="translate(0,1674)"><text class="l" x="22" y="4.5">32</text><text class="r" x="719" y="4.5">32</text><path class="g" d="M26,0H66M673,0H713"/><g id="k32-1"><use href="#bL" x="83.5"/></g><g id="k32-2"><use href="#wL" x="135.5"/></g><g id="k32-3"><use href="#wL" x="187.5"/></g><g id="k32-4"><use href="#bL" x="239.5"/></g><g id="k32-5"><use href="#bL" x="291.5"/></g><g id="k32-6"><use href="#bL" x="343.5"/></g><g id="k32-7"><use href="#bL" x="395.5"/></g><g id="k32-8"><use href="#bL" x="447.5"/></g><g id="k32-9"><use href="#bL" x="499.5"/></g><g id="k32-10"><use href="#bL" x="551.5"/></g><g id="k32-11"><use href="#bL" x="603.5"/></g><g id="k32-12"><use href="#bL" x="655.5"/></g></g>
<g id="row33" transform="translate(0,1726)"><text class="l" x="22" y="4.5">33</text><text class="r" x="719" y="4.5">33</text><path class="g" d="M26,0H66M673,0H713"/><g id="k33-1"><use href="#bR" x="83.5"/></g><g id="k33-2"><use href="#wR" x="135.5"/></g><g id="k33-3"><use href="#bR" x="187.5"/></g><g id="k33-4"><use href="#bR" x="239.5"/></g><g id="k33-5"><use href="#bR" x="291.5"/></g><g id="k33-6"><use href="#bR" x="343.5"/></g><g id="k33-7"><use href="#bR" x="395.5"/></g><g id="k33-8"><use href="#bR" x="447.5"/></g><g id="k33-9"><use href="#bR" x="499.5"/></g><g id="k33-10"><use href="#bR" x="551.5"/></g><g id="k33-11"><use href="#bR" x="603.5"/></g><g id="k33-12"><use href="#bR" x="655.5"/></g></g>
<g id="row34" transform="translate(0,1778)"><text class="l" x="22" y="4.5">34</text><text class="r" x="719" y="4.5">34</text><path class="g" d="M26,0H66M673,0H713"/><g id="k34-1"><use href="#bL" x="83.5"/></g><g id="k34-2"><use href="#wL" x="135.5"/></g><g id="k34-3"><use href="#bL" x="187.5"/></g><g id="k34-4"><use href="#bL" x="239.5"/></g><g id="k34-5"><use href="#bL" x="291.5"/></g><g id="k34-6"><use href="#bL" x="343.5"/></g><g id="k34-7"><use href="#bL" x="395.5"/></g><g id="k34-8"><use href="#bL" x="447.5"/></g><g id="k34-9"><use href="#bL" x="499.5"/></g><g id="k34-10"><use href="#bL" x="551.5"/></g><g id="k34-11"><use href="#bL" x="603.5"/></g><g id="k34-12"><use href="#bL" x="655.5"/></g></g>
<g id="row35" transform="translate(0,1830)"><text class="l" x="22" y="4.5">35</text><text class="r" x="719" y="4.5">35</text><path class="g" d="M26,0H66M673,0H713"/><g id="k35-1"><use href="#bR" x="83.5"/></g><g id="k35-2"><use href="#wR" x="135.5"/></g><g id="k35-3"><use href="#bR" x="187.5"/></g><g id="k35-4"><use href="#bR" x="239.5"/></g><g id="k35-5"><use href="#bR" x="291.5"/></g><g id="k35-6"><use href="#bR" x="343.5"/></g><g id="k35-7"><use href="#bR" x="395.5"/></g><g id="k35-8"><use href="#bR" x="447.5"/></g><g id="k35-9"><use href="#bR" x="499.5"/></g><g id="k35-10"><use href="#bR" x="551.5"/></g><g id="k35-11"><use href="#bR" x="603.5"/></g><g id="k35-12"><use href="#bR" x="655.5"/></g></g>
<g id="row36" transform="translate(0,1882)"><text class="l" x="22" y="4.5">36</text><text class="r" x="719" y="4.5">36</text><path class="g" d="M26,0H66M673,0H713"/><g id="k36-1"><use href="#bL" x="83.5"/></g><g id="k36-2"><use href="#wL" x="135.5"/></g><g id="k36-3"><use href="#wL" x="187.5"/></g><g id="k36-4"><use href="#bL" x="239.5"/></g><g id="k36-5"><use href="#bL" x="291.5"/></g><g id="k36-6"><use href="#bL" x="343.5"/></g><g id="k36-7"><use href="#bL" x="395.5"/></g><g id="k36-8"><use href="#bL" x="447.5"/></g><g id="k36-9"><use href="#bL" x="499.5"/></g><g id="k36-10"><use href="#bL" x="551.5"/></g><g id="k36-11"><use href="#bL" x="603.5"/></g><g id="k36-12"><use href="#bL" x="655.5"/></g></g>
<g id="row37" transform="translate(0,1934)"><text class="l" x="22" y="4.5">37</text><text class="r" x="719" y="4.5">37</text><path class="g" d="M26,0H66M673,0H713"/><g id="k37-1"><use href="#bR" x="83.5"/></g><g id="k37-2"><use href="#bR" x="135.5"/></g><g id="k37-3"><use href="#wR" x="187.5"/></g><g id="k37-4"><use href="#wR" x="239.5"/></g><g id="k37-5"><use href="#wR" x="291.5"/></g><g id="k37-6"><use href="#wR" x="343.5"/></g><g id="k37-7"><use href="#wR" x="395.5"/></g><g id="k37-8"><use href="#bR" x="447.5"/></g><g id="k37-9"><use href="#bR" x="499.5"/></g><g id="k37-10"><use href="#bR" x="551.5"/></g><g id="k37-11"><use href="#bR" x="603.5"/></g><g id="k37-12"><use href="#bR" x="655.5"/></g></g>
<g id="row38" transform="translate(0,1986)"><text class="l" x="22" y="4.5">38</text><text class="r" x="719" y="4.5">38</text><path class="g" d="M26,0H66M673,0H713"/><g id="k38-1"><use href="#bL" x="83.5"/></g><g id="k38-2"><use href="#wL" x="135.5"/></g><g id="k38-3"><use href="#wL" x="187.5"/></g><g id="k38-4"><use href="#wL" x="239.5"/></g><g id="k38-5"><use href="#wL" x="291.5"/></g><g id="k38-6"><use href="#wL" x="343.5"/></g><g id="k38-7"><use href="#bL" x="395.5"/></g><g id="k38-8"><use href="#bL" x="447.5"/></g><g id="k38-9"><use href="#bL" x="499.5"/></g><g id="k38-10"><use href="#bL" x="551.5"/></g><g id="k38-11"><use href="#bL" x="603.5"/></g><g id="k38-12"><use href="#bL" x="655.5"/></g></g>
<g id="row39" transform="translate(0,2038)"><text class="l" x="22" y="4.5">39</text><text class="r" x="719" y="4.5">39</text><path class="g" d="M26,0H66M673,0H713"/><g id="k39-1"><use href="#bR" x="83.5"/></g><g id="k39-2"><use href="#bR" x="135.5"/></g><g id="k39-3"><use href="#bR" x="187.5"/></g><g id="k39-4"><use href="#bR" x="239.5"/></g><g id="k39-5"><use href="#bR" x="291.5"/></g><g id="k39-6"><use href="#wR" x="343.5"/></g><g id="k39-7"><use href="#wR" x="395.5"/></g><g id="k39-8"><use href="#bR" x="447.5"/></g><g id="k39-9"><use href="#bR" x="499.5"/></g><g id="k39-10"><use href="#bR" x="551.5"/></g><g id="k39-11"><use href="#bR" x="603.5"/></g><g id="k39-12"><use href="#bR" x="655.5"/></g></g>
<g id="row40" transform="translate(0,2090)"><text class="l" x="22" y="4.5">40</text><text class="r" x="719" y="4.5">40</text><path class="g" d="M26,0H66M673,0H713"/><g id="k40-1"><use href="#bL" x="83.5"/></g><g id="k40-2"><use href="#bL" x="135.5"/></g><g id="k40-3"><use href="#bL" x="187.5"/></g><g id="k40-4"><use href="#bL" x="239.5"/></g><g id="k40-5"><use href="#bL" x="291.5"/></g><g id="k40-6"><use href="#bL" x="343.5"/></g><g id="k40-7"><use href="#wL" x="395.5"/></g><g id="k40-8"><use href="#bL" x="447.5"/></g><g id="k40-9"><use href="#bL" x="499.5"/></g><g id="k40-10"><use href="#bL" x="551.5"/></g><g id="k40-11"><use href="#bL" x="603.5"/></g><g id="k40-12"><use href="#bL" x="655.5"/></g></g>
<g id="row41" transform="translate(0,2142)"><text class="l" x="22" y="4.5">41</text><text class="r" x="719" y="4.5">41</text><path class="g" d="M26,0H66M673,0H713"/><g id="k41-1"><use href="#bR" x="83.5"/></g><g id="k41-2"><use href="#bR" x="135.5"/></g><g id="k41-3"><use href="#bR" x="187.5"/></g><g id="k41-4"><use href="#bR" x="239.5"/></g><g id="k41-5"><use href="#bR" x="291.5"/></g><g id="k41-6"><use href="#bR" x="343.5"/></g><g id="k41-7"><use href="#wR" x="395.5"/></g><g id="k41-8"><use href="#bR" x="447.5"/></g><g id="k41-9"><use href="#bR" x="499.5"/></g><g id="k41-10"><use href="#bR" x="551.5"/></g><g id="k41-11"><use href="#bR" x="603.5"/></g><g id="k41-12"><use href="#bR" x="655.5"/></g></g>
<g id="row42" transform="translate(0,2194)"><text class="l" x="22" y="4.5">42</text><text class="r" x="719" y="4.5">42</text><path class="g" d="M26,0H66M673,0H713"/><g id="k42-1"><use href="#bL" x="83.5"/></g><g id="k42-2"><use href="#bL" x="135.5"/></g><g id="k42-3"><use href="#bL" x="187.5"/></g><g id="k42-4"><use href="#bL" x="239.5"/></g><g id="k42-5"><use href="#bL" x="291.5"/></g><g id="k42-6"><use href="#bL" x="343.5"/></g><g id="k42-7"><use href="#wL" x="395.5"/></g><g id="k42-8"><use href="#bL" x="447.5"/></g><g id="k42-9"><use href="#bL" x="499.5"/></g><g id="k42-10"><use href="#bL" x="551.5"/></g><g id="k42-11"><use href="#bL" x="603.5"/></g><g id="k42-12"><use href="#bL" x="655.5"/></g></g>
<g id="row43" transform="translate(0,2246)"><text class="l" x="22" y="4.5">43</text><text class="r" x="719" y="4.5">43</text><path class="g" d="M26,0H66M673,0H713"/><g id="k43-1"><use href="#bR" x="83.5"/></g><g id="k43-2"><use href="#bR" x="135.5"/></g><g id="k43-3"><use href="#bR" x="187.5"/></g><g id="k43-4"><use href="#bR" x="239.5"/></g><g id="k43-5"><use href="#bR" x="291.5"/></g><g id="k43-6"><use href="#bR" x="343.5"/></g><g id="k43-7"><use href="#wR" x="395.5"/></g><g id="k43-8"><use href="#bR" x="447.5"/></g><g id="k43-9"><use href="#bR" x="499.5"/></g><g id="k43-10"><use href="#bR" x="551.5"/></g><g id="k43-11"><use href="#bR" x="603.5"/></g><g id="k43-12"><use href="#bR" x="655.5"/></g></g>
<g id="row44" transform="translate(0,2298)"><text class="l" x="22" y="4.5">44</text><text class="r" x="719" y="4.5">44</text><path class="g" d="M26,0H66M673,0H713"/><g id="k44-1"><use href="#bL" x="83.5"/></g><g id="k44-2"><use href="#bL" x="135.5"/></g><g id="k44-3"><use href="#bL" x="187.5"/></g><g id="k44-4"><use href="#bL" x="239.5"/></g><g id="k44-5"><use href="#bL" x="291.5"/></g><g id="k44-6"><use href="#bL" x="343.5"/></g><g id="k44-7"><use href="#bL" x="395.5"/></g><g id="k44-8"><use href="#bL" x="447.5"/></g><g id="k44-9"><use href="#bL" x="499.5"/></g><g id="k44-10"><use href="#bL" x="551.5"/></g><g id="k44-11"><use href="#bL" x="603.5"/></g><g id="k44-12"><use href="#bL" x="655.5"/></g></g>
<g id="row45" transform="translate(0,2350)"><text class="l" x="22" y="4.5">45</text><text class="r" x="719" y="4.5">45</text><path class="g" d="M26,0H66M673,0H713"/><g id="k45-1"><use href="#bR" x="83.5"/></g><g id="k45-2"><use href="#bR" x="135.5"/></g><g id="k45-3"><use href="#bR" x="187.5"/></g><g id="k45-4"><use href="#bR" x="239.5"/></g><g id="k45-5"><use href="#bR" x="291.5"/></g><g id="k45-6"><use href="#bR" x="343.5"/></g><g id="k45-7"><use href="#bR" x="395.5"/></g><g id="k45-8"><use href="#bR" x="447.5"/></g><g id="k45-9"><use href="#bR" x="499.5"/></g><g id="k45-10"><use href="#bR" x="551.5"/></g><g id="k45-11"><use href="#bR" x="603.5"/></g><g id="k45-12"><use href="#bR" x="655.5"/></g></g>
<g id="row46" transform="translate(0,2402)"><text class="l" x="22" y="4.5">46</text><text class="r" x="719" y="4.5">46</text><path class="g" d="M26,0H66M673,0H713"/><g id="k46-1"><use href="#bL" x="83.5"/></g><g id="k46-2"><use href="#bL" x="135.5"/></g><g id="k46-3"><use href="#bL" x="187.5"/></g><g id="k46-4"><use href="#bL" x="239.5"/></g><g id="k46-5"><use href="#bL" x="291.5"/></g><g id="k46-6"><use href="#bL" x="343.5"/></g><g id="k46-7"><use href="#bL" x="395.5"/></g><g id="k46-8"><use href="#bL" x="447.5"/></g><g id="k46-9"><use href="#bL" x="499.5"/></g><g id="k46-10"><use href="#bL" x="551.5"/></g><g id="k46-11"><use href="#bL" x="603.5"/></g><g id="k46-12"><use href="#bL" x="655.5"/></g></g>
<g id="row47" transform="translate(0,2454)"><text class="l" x="22" y="4.5">47</text><text class="r" x="719" y="4.5">47</text><path class="g" d="M26,0H66M673,0H713"/><g id="k47-1"><use href="#bR" x="83.5"/></g><g id="k47-2"><use href="#bR" x="135.5"/></g><g id="k47-3"><use href="#bR" x="187.5"/></g><g id="k47-4"><use href="#bR" x="239.5"/></g><g id="k47-5"><use href="#bR" x="291.5"/></g><g id="k47-6"><use href="#bR" x="343.5"/></g><g id="k47-7"><use href="#bR" x="395.5"/></g><g id="k47-8"><use href="#bR" x="447.5"/></g><g id="k47-9"><use href="#bR" x="499.5"/></g><g id="k47-10"><use href="#bR" x="551.5"/></g><g id="k47-11"><use href="#bR" x="603.5"/></g><g id="k47-12"><use href="#bR" x="655.5"/></g></g>
<g id="row48" transform="translate(0,2506)"><text class="l" x="22" y="4.5">48</text><text class="r" x="719" y="4.5">48</text><path class="g" d="M26,0H66M673,0H713"/><g id="k48-1"><use href="#bL" x="83.5"/></g><g id="k48-2"><use href="#bL" x="135.5"/></g><g id="k48-3"><use href="#bL" x="187.5"/></g><g id="k48-4"><use href="#bL" x="239.5"/></g><g id="k48-5"><use href="#bL" x="291.5"/></g><g id="k48-6"><use href="#bL" x="343.5"/></g><g id="k48-7"><use href="#bL" x="395.5"/></g><g id="k48-8"><use href="#bL" x="447.5"/></g><g id="k48-9"><use href="#bL" x="499.5"/></g><g id="k48-10"><use href="#bL" x="551.5"/></g><g id="k48-11"><use href="#bL" x="603.5"/></g><g id="k48-12"><use href="#bL" x="655.5"/></g></g>
<g id="row49" transform="translate(0,2558)"><text class="l" x="22" y="4.5">49</text><text class="r" x="719" y="4.5">49</text><path class="g" d="M26,0H66M673,0H713"/><g id="k49-1"><use href="#bR" x="83.5"/></g><g id="k49-2"><use href="#bR" x="135.5"/></g><g id="k49-3"><use href="#bR" x="187.5"/></g><g id="k49-4"><use href="#bR" x="239.5"/></g><g id="k49-5"><use href="#bR" x="291.5"/></g><g id="k49-6"><use href="#bR" x="343.5"/></g><g id="k49-7"><use href="#bR" x="395.5"/></g><g id="k49-8"><use href="#bR" x="447.5"/></g><g id="k49-9"><use href="#bR" x="499.5"/></g><g id="k49-10"><use href="#bR" x="551.5"/></g><g id="k49-11"><use href="#bR" x="603.5"/></g><g id="k49-12"><use href="#bR" x="655.5"/></g></g>
<g id="row50" transform="translate(0,2610)"><text class="l" x="22" y="4.5">50</text><text class="r" x="719" y="4.5">50</text><path class="g" d="M26,0H66M673,0H713"/><g id="k50-1"><use href="#bL" x="83.5"/></g><g id="k50-2"><use href="#bL" x="135.5"/></g><g id="k50-3"><use href="#bL" x="187.5"/></g><g id="k50-4"><use href="#bL" x="239.5"/></g><g id="k50-5"><use href="#bL" x="291.5"/></g><g id="k50-6"><use href="#bL" x="343.5"/></g><g id="k50-7"><use href="#bL" x="395.5"/></g><g id="k50-8"><use href="#bL" x="447.5"/></g><g id="k50-9"><use href="#bL" x="499.5"/></g><g id="k50-10"><use href="#bL" x="551.5"/></g><g id="k50-11"><use href="#bL" x="603.5"/></g><g id="k50-12"><use href="#bL" x="655.5"/></g></g>
<g id="row51" transform="translate(0,2662)"><text class="l" x="22" y="4.5">51</text><text class="r" x="719" y="4.5">51</text><path class="g" d="M26,0H66M673,0H713"/><g id="k51-1"><use href="#bR" x="83.5"/></g><g id="k51-2"><use href="#bR" x="135.5"/></g><g id="k51-3"><use href="#bR" x="187.5"/></g><g id="k51-4"><use href="#bR" x="239.5"/></g><g id="k51-5"><use href="#bR" x="291.5"/></g><g id="k51-6"><use href="#bR" x="343.5"/></g><g id="k51-7"><use href="#bR" x="395.5"/></g><g id="k51-8"><use href="#bR" x="447.5"/></g><g id="k51-9"><use href="#bR" x="499.5"/></g><g id="k51-10"><use href="#bR" x="551.5"/></g><g id="k51-11"><use href="#bR" x="603.5"/></g><g id="k51-12"><use href="#bR" x="655.5"/></g></g>
<g id="row52" transform="translate(0,2714)"><text class="l" x="22" y="4.5">52</text><text class="r" x="719" y="4.5">52</text><path class="g" d="M26,0H66M673,0H713"/><g id="k52-1"><use href="#bL" x="83.5"/></g><g id="k52-2"><use href="#bL" x="135.5"/></g><g id="k52-3"><use href="#bL" x="187.5"/></g><g id="k52-4"><use href="#bL" x="239.5"/></g><g id="k52-5"><use href="#bL" x="291.5"/></g><g id="k52-6"><use href="#bL" x="343.5"/></g><g id="k52-7"><use href="#bL" x="395.5"/></g><g id="k52-8"><use href="#bL" x="447.5"/></g><g id="k52-9"><use href="#bL" x="499.5"/></g><g id="k52-10"><use href="#bL" x="551.5"/></g><g id="k52-11"><use href="#bL" x="603.5"/></g><g id="k52-12"><use href="#bL" x="655.5"/></g></g>
<g id="row53" transform="translate(0,2766)"><text class="l" x="22" y="4.5">53</text><text class="r" x="719" y="4.5">53</text><path class="g" d="M26,0H66M673,0H713"/><g id="k53-1"><use href="#bR" x="83.5"/></g><g id="k53-2"><use href="#bR" x="135.5"/></g><g id="k53-3"><use href="#bR" x="187.5"/></g><g id="k53-4"><use href="#bR" x="239.5"/></g><g id="k53-5"><use href="#bR" x="291.5"/></g><g id="k53-6"><use href="#bR" x="343.5"/></g><g id="k53-7"><use href="#bR" x="395.5"/></g><g id="k53-8"><use href="#bR" x="447.5"/></g><g id="k53-9"><use href="#bR" x="499.5"/></g><g id="k53-10"><use href="#bR" x="551.5"/></g><g id="k53-11"><use href="#bR" x="603.5"/></g><g id="k53-12"><use href="#bR" x="655.5"/></g></g>
<g id="row54" transform="translate(0,2818)"><text class="l" x="22" y="4.5">54</text><text class="r" x="719" y="4.5">54</text><path class="g" d="M26,0H66M673,0H713"/><g id="k54-1"><use href="#bL" x="83.5"/></g><g id="k54-2"><use href="#bL" x="135.5"/></g><g id="k54-3"><use href="#bL" x="187.5"/></g><g id="k54-4"><use href="#bL" x="239.5"/></g><g id="k54-5"><use href="#bL" x="291.5"/></g><g id="k54-6"><use href="#bL" x="343.5"/></g><g id="k54-7"><use href="#bL" x="395.5"/></g><g id="k54-8"><use href="#bL" x="447.5"/></g><g id="k54-9"><use href="#bL" x="499.5"/></g><g id="k54-10"><use href="#bL" x="551.5"/></g><g id="k54-11"><use href="#bL" x="603.5"/></g><g id="k54-12"><use href="#bL" x="655.5"/></g></g>
<g id="row55" transform="translate(0,2870)"><text class="l" x="22" y="4.5">55</text><text class="r" x="719" y="4.5">55</text><path class="g" d="M26,0H66M673,0H713"/><g id="k55-1"><use href="#bR" x="83.5"/></g><g id="k55-2"><use href="#bR" x="135.5"/></g><g id="k55-3"><use href="#bR" x="187.5"/></g><g id="k55-4"><use href="#bR" x="239.5"/></g><g id="k55-5"><use href="#bR" x="291.5"/></g><g id="k55-6"><use href="#bR" x="343.5"/></g><g id="k55-7"><use href="#bR" x="395.5"/></g><g id="k55-8"><use href="#bR" x="447.5"/></g><g id="k55-9"><use href="#bR" x="499.5"/></g><g id="k55-10"><use href="#bR" x="551.5"/></g><g id="k55-11"><use href="#bR" x="603.5"/></g><g id="k55-12"><use href="#bR" x="655.5"/></g></g>
<g id="row56" transform="translate(0,2922)"><text class="l" x="22" y="4.5">56</text><text class="r" x="719" y="4.5">56</text><path class="g" d="M26,0H66M673,0H713"/><g id="k56-1"><use href="#wL" x="83.5"/></g><g id="k56-2"><use href="#wL" x="135.5"/></g><g id="k56-3"><use href="#wL" x="187.5"/></g><g id="k56-4"><use href="#wL" x="239.5"/></g><g id="k56-5"><use href="#wL" x="291.5"/></g><g id="k56-6"><use href="#wL" x="343.5"/></g><g id="k56-7"><use href="#wL" x="395.5"/></g><g id="k56-8"><use href="#wL" x="447.5"/></g><g id="k56-9"><use href="#wL" x="499.5"/></g><g id="k56-10"><use href="#wL" x="551.5"/></g><g id="k56-11"><use href="#wL" x="603.5"/></g><g id="k56-12"><use href="#wL" x="655.5"/></g></g>
<g id="row57" transform="translate(0,2974)"><text class="l" x="22" y="4.5">57</text><text class="r" x="719" y="4.5">57</text><path class="g" d="M26,0H66M673,0H713"/><g id="k57-1"><use href="#bR" x="83.5"/></g><g id="k57-2"><use href="#bR" x="135.5"/></g><g id="k57-3"><use href="#bR" x="187.5"/></g><g id="k57-4"><use href="#bR" x="239.5"/></g><g id="k57-5"><use href="#bR" x="291.5"/></g><g id="k57-6"><use href="#bR" x="343.5"/></g><g id="k57-7"><use href="#bR" x="395.5"/></g><g id="k57-8"><use href="#bR" x="447.5"/></g><g id="k57-9"><use href="#bR" x="499.5"/></g><g id="k57-10"><use href="#bR" x="551.5"/></g><g id="k57-11"><use href="#bR" x="603.5"/></g><g id="k57-12"><use href="#bR" x="655.5"/></g></g>
<g id="row58" transform="translate(0,3026)"><text class="l" x="22" y="4.5">58</text><text class="r" x="719" y="4.5">58</text><path class="g" d="M26,0H66M673,0H713"/><g id="k58-1"><use href="#bL" x="83.5"/></g><g id="k58-2"><use href="#bL" x="135.5"/></g><g id="k58-3"><use href="#bL" x="187.5"/></g><g id="k58-4"><use href="#bL" x="239.5"/></g><g id="k58-5"><use href="#bL" x="291.5"/></g><g id="k58-6"><use href="#bL" x="343.5"/></g><g id="k58-7"><use href="#bL" x="395.5"/></g><g id="k58-8"><use href="#bL" x="447.5"/></g><g id="k58-9"><use href="#bL" x="499.5"/></g><g id="k58-10"><use href="#bL" x="551.5"/></g><g id="k58-11"><use href="#bL" x="603.5"/></g><g id="k58-12"><use href="#bL" x="655.5"/></g></g>
<g id="row59" transform="translate(0,3078)"><text class="l" x="22" y="4.5">59</text><text class="r" x="719" y="4.5">59</text><path class="g" d="M26,0H66"/><g id="k59-1"><use href="#wR" x="83.5"/></g><g id="k59-2"><use href="#wR" x="135.5"/></g><g id="k59-3"><use href="#wR" x="187.5"/></g><g id="k59-4"><use href="#wR" x="239.5"/></g><g id="k59-5"><use href="#wR" x="291.5"/></g><g id="k59-6"><use href="#wR" x="343.5"/></g><g id="k59-7"><use href="#wR" x="395.5"/></g><g id="k59-8"><use href="#wR" x="447.5"/></g><g id="k59-9"><use href="#wR" x="499.5"/></g><g id="k59-10"><use href="#wR" x="551.5"/></g><g id="k59-11"><use href="#wR" x="603.5"/></g><g id="k59-12"><use href="#wR" x="655.5"/></g></g>
<g id="row60" transform="translate(0,3130)"><text class="l" x="22" y="4.5">60</text><text class="r" x="719" y="4.5">60</text><path class="g" d="M673,0H713"/><g id="k60-1"><use href="#bL" x="83.5"/></g><g id="k60-2"><use href="#bL" x="135.5"/></g><g id="k60-3"><use href="#bL" x="187.5"/></g><g id="k60-4"><use href="#bL" x="239.5"/></g><g id="k60-5"><use href="#bL" x="291.5"/></g><g id="k60-6"><use href="#bL" x="343.5"/></g><g id="k60-7"><use href="#bL" x="395.5"/></g><g id="k60-8"><use href="#bL" x="447.5"/></g><g id="k60-9"><use href="#bL" x="499.5"/></g><g id="k60-10"><use href="#bL" x="551.5"/></g><g id="k60-11"><use href="#bL" x="603.5"/></g><g id="k60-12"><use href="#bL" x="655.5"/></g></g>
</g>
<text id="watermark" x="372" y="1601" font-family="Liberation Sans,Arial,sans-serif" font-weight="bold" font-size="14" fill="#4a4a4a" stroke="#fff" stroke-width="2" paint-order="stroke" text-anchor="middle">BRACELETBOOK.COM</text>
</svg>
